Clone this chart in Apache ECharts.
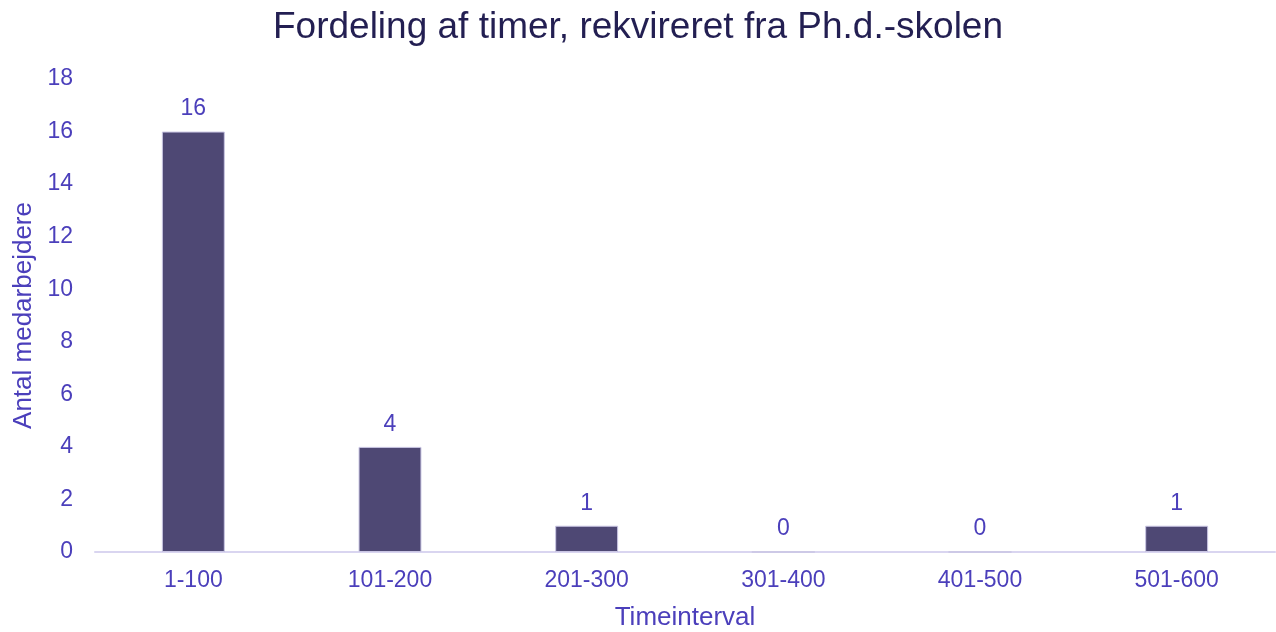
<!DOCTYPE html>
<html>
<head>
    <meta charset="utf-8">
    <title>ECharts</title>
    <script src="https://cdn.jsdelivr.net/npm/echarts@6/dist/echarts.min.js"></script>
</head>
<body style="margin:0">
    <div id="chart" style="width:1276px;height:632px"></div>
</body>
<script>
    var categories = ['1-100', '101-200', '201-300', '301-400', '401-500', '501-600'];
    var counts = [16, 4, 1, 0, 0, 1];
    var labelColor = '#4b3fbb';

    var mychart = echarts.init(document.getElementById('chart'));
    var option = {
        textStyle: { fontFamily: 'Liberation Sans' },
        title: {
            text: 'Fordeling af timer, rekvireret fra Ph.d.-skolen',
            left: 'center',
            top: 4,
            textStyle: { fontSize: 37, fontWeight: 'normal', color: '#231f52', fontFamily: 'Liberation Sans' }
        },
        grid: { left: 95, right: 1, top: 79, bottom: 80, containLabel: false, outerBoundsMode: 'none' },
        xAxis: {
            type: 'category',
            data: categories,
            name: 'Timeinterval',
            nameLocation: 'middle',
            nameGap: 53,
            nameTextStyle: { fontSize: 26, color: labelColor },
            axisLine: { lineStyle: { color: '#d9d5f0', width: 2 } },
            axisTick: { show: false },
            axisLabel: { fontSize: 23, color: labelColor, margin: 17 }
        },
        yAxis: {
            type: 'value',
            min: 0,
            max: 18,
            interval: 2,
            name: 'Antal medarbejdere',
            nameLocation: 'middle',
            nameGap: 55,
            nameTextStyle: { fontSize: 26, color: labelColor },
            axisLine: { show: false },
            axisTick: { show: false },
            splitLine: { show: false },
            axisLabel: { fontSize: 23, color: labelColor, margin: 22 }
        },
        series: [{
            type: 'bar',
            data: counts,
            barWidth: '32%',
            itemStyle: { color: '#4e4874', borderColor: '#c9c5e3', borderWidth: 1 },
            label: {
                show: true,
                position: 'top',
                distance: 11,
                fontSize: 23,
                color: labelColor
            }
        }]
    };
    mychart.setOption(option);
</script>
</html>
